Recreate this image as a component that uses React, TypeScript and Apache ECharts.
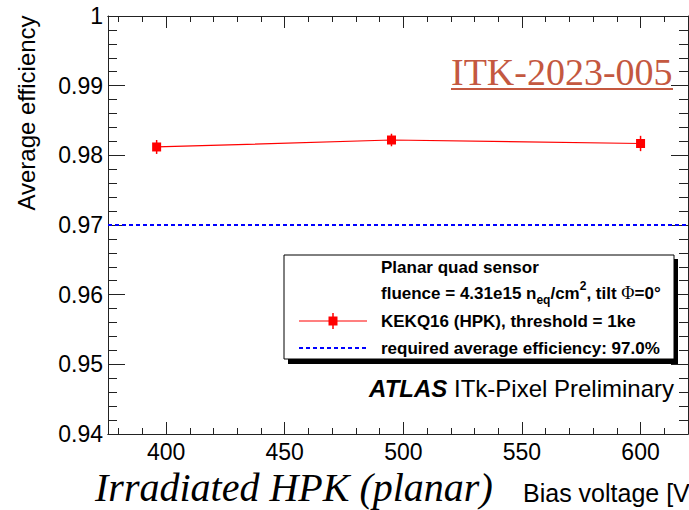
import { useEffect, useRef } from "react";
import * as echarts from "echarts";

// Measured points: bias voltage [V] vs. average hit efficiency
const biasVoltage = [396, 495, 600];
const avgEfficiency = [0.9812, 0.9822, 0.9817];
const efficiencyError = [0.001, 0.0009, 0.0011];
const requiredEfficiency = 0.97;

// Axis ticks
const xMajorTicks = [400, 450, 500, 550, 600];
const xMinorTicks = [380, 390, 410, 420, 430, 440, 460, 470, 480, 490, 510, 520, 530, 540, 560, 570, 580, 590, 610];
const X_MIN = 375.5;
const X_MAX = 620;
const Y_MIN = 0.94;
const Y_MAX = 1;
const Y_STEP = 0.01;

const SANS = '"Liberation Sans", Arial, Helvetica, sans-serif';
const SERIF = '"Liberation Serif", "Times New Roman", serif';
const RED = "#ff0000";
const BLUE = "#0000ff";
const AXIS = { color: "#222", width: 1 };

function xAxisDef(position: string, ticks: number[], len: number, labels: boolean) {
  return {
    type: "value",
    min: X_MIN,
    max: X_MAX,
    position,
    axisLine: { show: true, onZero: false, lineStyle: AXIS },
    axisTick: { show: true, inside: true, length: len, customValues: ticks, lineStyle: AXIS },
    axisLabel: labels
      ? { show: true, customValues: ticks, fontFamily: SANS, fontSize: 23, color: "#000", margin: 6 }
      : { show: false },
    splitLine: { show: false },
  };
}

function yAxisDef(position: string, labels: boolean) {
  return {
    type: "value",
    min: Y_MIN,
    max: Y_MAX,
    interval: Y_STEP,
    position,
    axisLine: { show: true, onZero: false, lineStyle: AXIS },
    axisTick: { show: true, inside: true, length: 17, lineStyle: AXIS },
    minorTick: { show: true, splitNumber: 5, length: 9, lineStyle: AXIS },
    axisLabel: labels
      ? {
          show: true,
          fontFamily: SANS,
          fontSize: 23,
          color: "#000",
          margin: 5,
          formatter: (v: number) => String(+v.toFixed(2)),
        }
      : { show: false },
    splitLine: { show: false },
    minorSplitLine: { show: false },
  };
}

function txt(x: number, y: number, text: string, extra: any = {}, z = 100, rotation = 0) {
  return {
    type: "text",
    x,
    y,
    z,
    rotation,
    style: {
      text,
      fill: "#000",
      fontFamily: SANS,
      fontSize: 17,
      fontWeight: "bold",
      align: "left",
      verticalAlign: "middle",
      textAlign: "left",
      textVerticalAlign: "middle",
      ...extra,
    },
  };
}

export default function App() {
  const ref = useRef<HTMLDivElement>(null);

  useEffect(() => {
    if (!ref.current) return;
    const chart = echarts.init(ref.current, undefined, { renderer: "svg" });

    const points = biasVoltage.map((x, i) => [x, avgEfficiency[i]]);
    const errBars = biasVoltage.map((x, i) => [x, avgEfficiency[i] - efficiencyError[i], avgEfficiency[i] + efficiencyError[i]]);

    const option: any = {
      animation: false,
      backgroundColor: "#fff",
      grid: { left: 108, top: 16, right: 1, bottom: 76, containLabel: false },
      xAxis: [
        xAxisDef("bottom", xMajorTicks, 12, true),
        xAxisDef("bottom", xMinorTicks, 6, false),
        xAxisDef("top", xMajorTicks, 12, false),
        xAxisDef("top", xMinorTicks, 6, false),
      ],
      yAxis: [yAxisDef("left", true), yAxisDef("right", false)],
      series: [
        {
          type: "custom",
          xAxisIndex: 0,
          yAxisIndex: 0,
          z: 2,
          data: errBars,
          encode: { x: 0, y: [1, 2] },
          renderItem: (_p: any, api: any) => {
            const lo = api.coord([api.value(0), api.value(1)]);
            const hi = api.coord([api.value(0), api.value(2)]);
            return {
              type: "line",
              shape: { x1: lo[0], y1: lo[1], x2: hi[0], y2: hi[1] },
              style: { stroke: RED, lineWidth: 1.5 },
            };
          },
        },
        {
          type: "line",
          xAxisIndex: 0,
          yAxisIndex: 0,
          z: 3,
          data: points,
          symbol: "rect",
          symbolSize: 9,
          lineStyle: { color: RED, width: 1.2 },
          itemStyle: { color: RED },
          markLine: {
            silent: true,
            symbol: ["none", "none"],
            label: { show: false },
            lineStyle: { color: BLUE, type: [4, 3], width: 2 },
            data: [{ yAxis: requiredEfficiency }],
          },
        },
      ],
      graphic: [
        // axis titles (y title reads bottom-to-top)
        txt(26, 113, "Average efficiency", { fontSize: 24, fontWeight: "normal", align: "center", textAlign: "center" }, 10, Math.PI / 2),
        txt(523, 493, "Bias voltage [V]", { fontSize: 25, fontWeight: "normal" }, 10),
        txt(95, 487, "Irradiated HPK (planar)", {
          fontFamily: SERIF,
          fontSize: 40,
          fontStyle: "italic",
          fontWeight: "normal",
        }, 10),
        // document reference
        txt(451, 72, "ITK-2023-005", { fontFamily: SERIF, fontSize: 38, fontWeight: "normal", fill: "#c45840" }, 10),
        {
          type: "line",
          z: 10,
          shape: { x1: 451, y1: 89, x2: 673, y2: 89 },
          style: { stroke: "#c45840", lineWidth: 2 },
        },
        // ATLAS label
        txt(674, 388, "{a|ATLAS} {p|ITk-Pixel Preliminary}", {
          fontSize: 24,
          fontWeight: "normal",
          align: "right",
          textAlign: "right",
          rich: {
            a: { fontFamily: SANS, fontSize: 24, fontWeight: "bold", fontStyle: "italic", fill: "#000", color: "#000" },
            p: { fontFamily: SANS, fontSize: 24, fontWeight: "normal", fill: "#000", color: "#000" },
          },
        }, 10),
        // legend box with shadow
        {
          type: "rect",
          z: 90,
          shape: { x: 288, y: 259, width: 390, height: 105 },
          style: { fill: "#000" },
        },
        {
          type: "rect",
          z: 91,
          shape: { x: 284, y: 255, width: 390, height: 104 },
          style: { fill: "#fff", stroke: "#000", lineWidth: 1 },
        },
        txt(381, 267, "Planar quad sensor"),
        txt(381, 293, "{b|fluence = 4.31e15 n}{sub|eq}{b|/cm}{sup|2}{b|, tilt }{phi|Φ}{b|=0°}", {
          rich: {
            b: { fontFamily: SANS, fontSize: 17, fontWeight: "bold", lineHeight: 26 },
            sub: { fontFamily: SANS, fontSize: 12, fontWeight: "bold", verticalAlign: "bottom" },
            sup: { fontFamily: SANS, fontSize: 12, fontWeight: "bold", verticalAlign: "top" },
            phi: { fontFamily: SERIF, fontSize: 18, fontWeight: "normal", lineHeight: 26 },
          },
        }),
        txt(381, 321, "KEKQ16 (HPK), threshold = 1ke"),
        txt(381, 348, "required average efficiency: 97.0%"),
        {
          type: "line",
          z: 100,
          shape: { x1: 299, y1: 321, x2: 367, y2: 321 },
          style: { stroke: RED, lineWidth: 1.2 },
        },
        {
          type: "line",
          z: 100,
          shape: { x1: 333, y1: 313, x2: 333, y2: 329 },
          style: { stroke: RED, lineWidth: 1.5 },
        },
        {
          type: "rect",
          z: 100,
          shape: { x: 328.5, y: 316.5, width: 9, height: 9 },
          style: { fill: RED },
        },
        {
          type: "line",
          z: 100,
          shape: { x1: 299, y1: 348, x2: 367, y2: 348 },
          style: { stroke: BLUE, lineWidth: 2, lineDash: [4, 3] },
        },
      ],
    };

    chart.setOption(option);
    return () => chart.dispose();
  }, []);

  return (
    <div
      ref={ref}
      style={{ position: "absolute", left: 0, top: 0, width: 689, height: 510, background: "#fff" }}
    />
  );
}
